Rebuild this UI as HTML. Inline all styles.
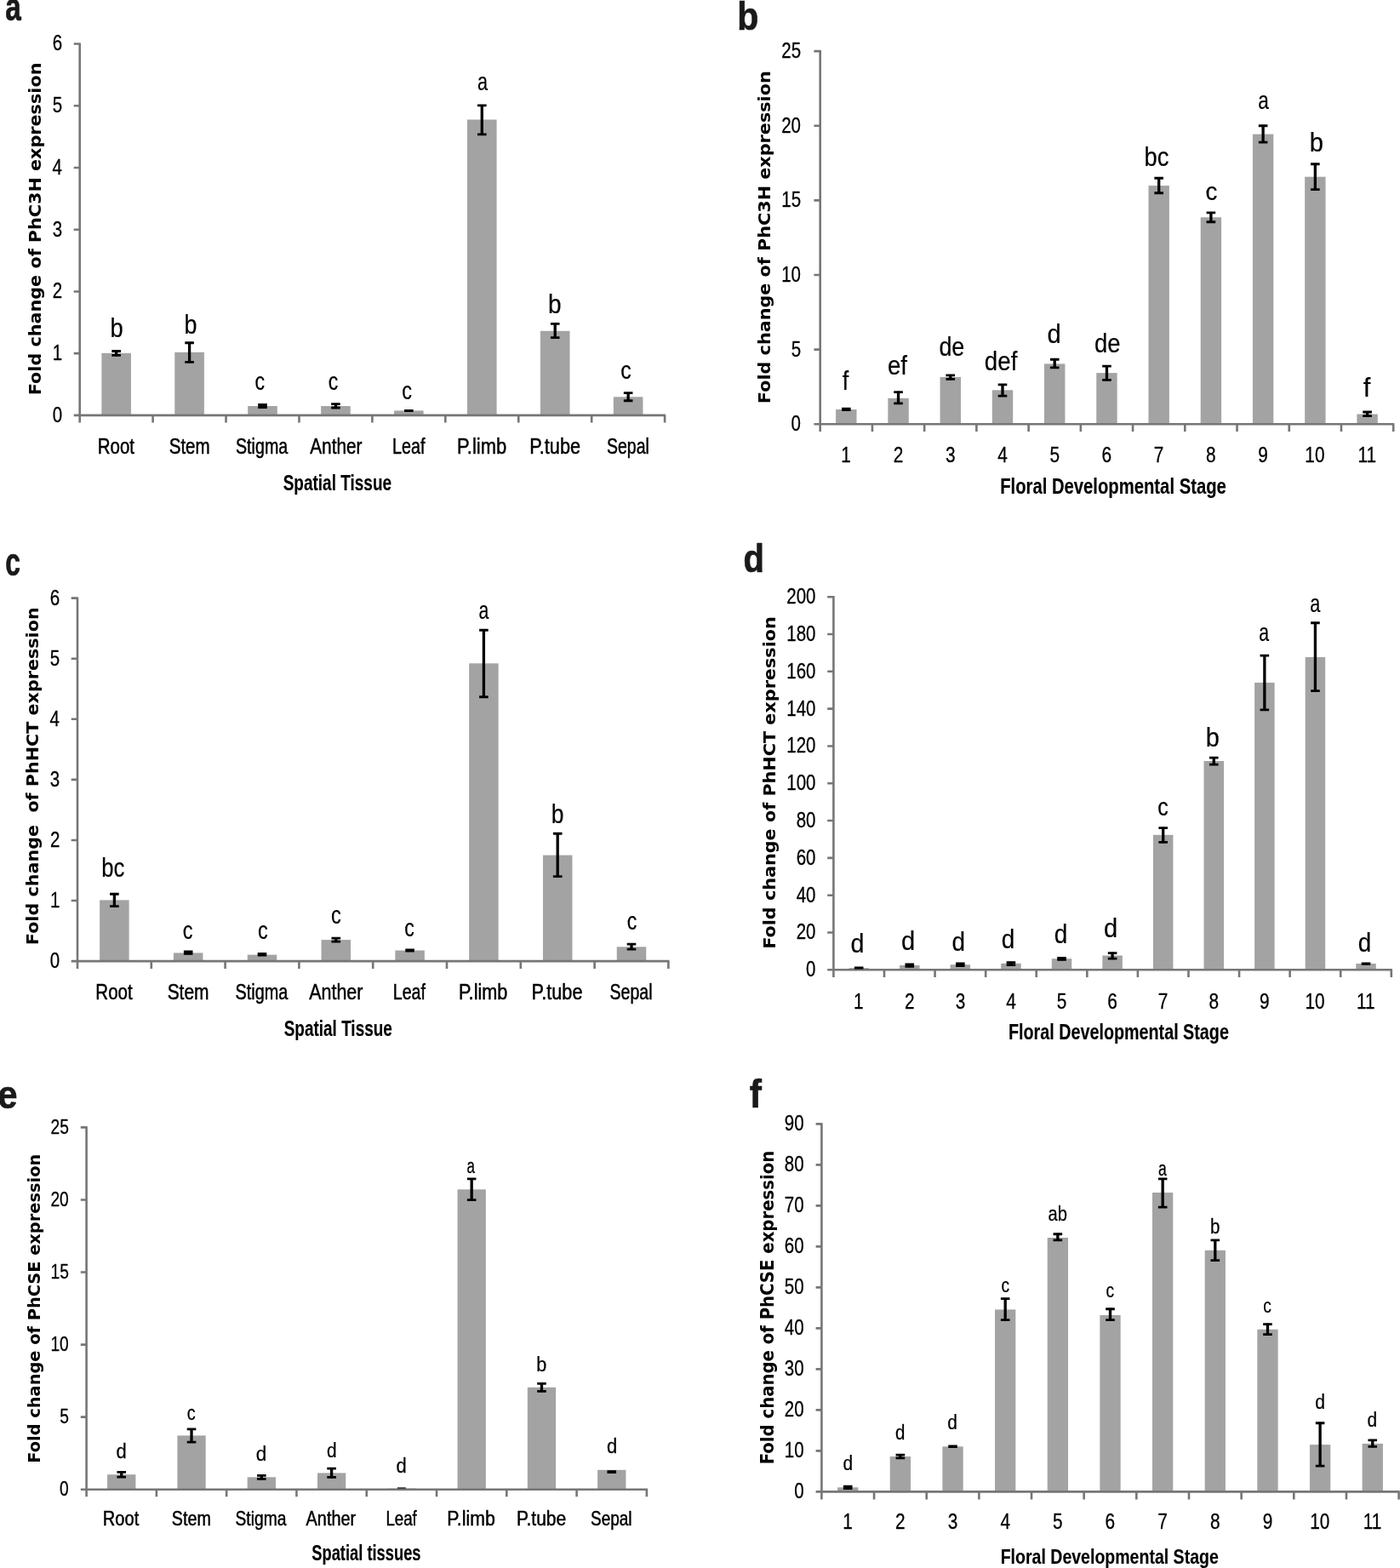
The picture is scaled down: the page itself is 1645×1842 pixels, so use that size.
<!DOCTYPE html>
<html lang="en">
<head>
<meta charset="utf-8">
<title>Fold change of PhC3H, PhHCT and PhCSE expression</title>
<style>
html,body{margin:0;padding:0;background:#fff;}
body{width:1645px;height:1842px;overflow:hidden;}
svg{display:block;}
text{font-family:'Liberation Sans', sans-serif;fill:#000;white-space:pre;stroke:#000;stroke-width:0.5px;stroke-linejoin:round;}
.xt{font-weight:bold;stroke-width:0.15px;}
.lt{stroke-width:0.2px;}
.ls{stroke-width:0.25px;}
.yl,.xn{stroke-width:0.3px;}
.yt{font-family:'DejaVu Sans', sans-serif;font-weight:bold;stroke:none;}
.pl{font-weight:bold;fill:#1a1a1a;stroke:#1a1a1a;stroke-width:0.7px;}
</style>
</head>
<body>
<svg width="1645" height="1842" viewBox="0 0 1645 1842" role="img" aria-label="Bar charts a to f: fold change of PhC3H, PhHCT and PhCSE expression">
<rect width="1645" height="1842" fill="#fff"/>
<g id="panel-a">
<rect x="119.36" y="414.8" width="34.6" height="73.1" fill="#a3a3a3"/>
<rect x="205.29" y="413.8" width="34.6" height="74.1" fill="#a3a3a3"/>
<rect x="291.21" y="477" width="34.6" height="10.9" fill="#a3a3a3"/>
<rect x="377.14" y="477" width="34.6" height="10.9" fill="#a3a3a3"/>
<rect x="463.06" y="482.4" width="34.6" height="5.5" fill="#a3a3a3"/>
<rect x="548.99" y="140.5" width="34.6" height="347.4" fill="#a3a3a3"/>
<rect x="634.91" y="388.8" width="34.6" height="99.1" fill="#a3a3a3"/>
<rect x="720.84" y="466.3" width="34.6" height="21.6" fill="#a3a3a3"/>
<path d="M93.7 50.4V496.5M86.7 487.9H782.2M86.7 415.17H93.7M86.7 342.43H93.7M86.7 269.7H93.7M86.7 196.97H93.7M86.7 124.23H93.7M86.7 51.5H93.7M179.62 487.9V496.5M265.55 487.9V496.5M351.47 487.9V496.5M437.4 487.9V496.5M523.33 487.9V496.5M609.25 487.9V496.5M695.18 487.9V496.5M781.1 487.9V496.5" stroke="#767676" stroke-width="2.6" fill="none"/>
<path d="M131.36 412.5H141.96M131.36 417.3H141.96M217.29 402.75H227.89M217.29 425.35H227.89M303.21 475.5H313.81M303.21 478.5H313.81M389.14 474.7H399.74M389.14 479H399.74M475.06 482.5H485.66M475.06 482.3H485.66M560.99 123.95H571.59M560.99 157.85H571.59M646.91 380.45H657.51M646.91 396.65H657.51M732.84 461.65H743.44M732.84 470.75H743.44" stroke="#000" stroke-width="2.8" fill="none"/>
<path d="M136.66 411.6V418.2M222.59 401.85V426.25M308.51 474.6V479.4M394.44 473.8V479.9M480.36 481.6V483.2M566.29 123.05V158.75M652.21 379.55V397.55M738.14 460.75V471.65" stroke="#000" stroke-width="3.3" fill="none"/>
<text class="yl" font-size="25" transform="translate(61.64 495.8) scale(0.8200 1)">0</text>
<text class="yl" font-size="25" transform="translate(61.84 423.07) scale(0.8200 1)">1</text>
<text class="yl" font-size="25" transform="translate(61.84 350.33) scale(0.8200 1)">2</text>
<text class="yl" font-size="25" transform="translate(61.74 277.6) scale(0.8200 1)">3</text>
<text class="yl" font-size="25" transform="translate(61.43 204.87) scale(0.8200 1)">4</text>
<text class="yl" font-size="25" transform="translate(61.74 132.13) scale(0.8200 1)">5</text>
<text class="yl" font-size="25" transform="translate(61.74 59.4) scale(0.8200 1)">6</text>
<text class="xl" font-size="25.4" transform="translate(114.74 532.5) scale(0.8060 1)">Root</text>
<text class="xl" font-size="25.4" transform="translate(198.65 532.5) scale(0.8109 1)">Stem</text>
<text class="xl" font-size="25.4" transform="translate(276.99 532.5) scale(0.7749 1)">Stigma</text>
<text class="xl" font-size="25.4" transform="translate(364.18 532.5) scale(0.8207 1)">Anther</text>
<text class="xl" font-size="25.4" transform="translate(461.1 532.5) scale(0.7765 1)">Leaf</text>
<text class="xl" font-size="25.4" transform="translate(537.02 532.5) scale(0.8650 1)">P.limb</text>
<text class="xl" font-size="25.4" transform="translate(622.14 532.5) scale(0.8534 1)">P.tube</text>
<text class="xl" font-size="25.4" transform="translate(713 532.5) scale(0.7672 1)">Sepal</text>
<text class="lt" font-size="31" transform="translate(129.53 396.1) scale(0.8834 1)">b</text>
<text class="lt" font-size="31" transform="translate(216.55 392.1) scale(0.8692 1)">b</text>
<text class="lt" font-size="29.6" transform="translate(299.54 458) scale(0.7813 1)">c</text>
<text class="lt" font-size="29.6" transform="translate(385.84 458) scale(0.7813 1)">c</text>
<text class="lt" font-size="29.6" transform="translate(472.23 469.2) scale(0.7968 1)">c</text>
<text class="lt" font-size="29.6" transform="translate(560.9 105.8) scale(0.7315 1)">a</text>
<text class="lt" font-size="31" transform="translate(643.89 368) scale(0.9046 1)">b</text>
<text class="lt" font-size="29.6" transform="translate(729.37 445) scale(0.8434 1)">c</text>
<text class="xt" font-size="26.2" transform="translate(332.68 576.1) scale(0.7254 1)">Spatial Tissue</text>
<text class="yt" font-size="18.6" transform="translate(47.6 464.27) rotate(-90) scale(1.1158 1)">Fold change of PhC3H expression</text>
<text class="pl" font-size="45.5" transform="translate(6.21 24.1) scale(0.7330 1)">a</text>
</g>
<g id="panel-b">
<rect x="982.11" y="481" width="24.4" height="17.3" fill="#a3a3a3"/>
<rect x="1043.34" y="467.8" width="24.4" height="30.5" fill="#a3a3a3"/>
<rect x="1104.57" y="443" width="24.4" height="55.3" fill="#a3a3a3"/>
<rect x="1165.8" y="458.3" width="24.4" height="40" fill="#a3a3a3"/>
<rect x="1227.02" y="427.4" width="24.4" height="70.9" fill="#a3a3a3"/>
<rect x="1288.25" y="438.1" width="24.4" height="60.2" fill="#a3a3a3"/>
<rect x="1349.48" y="218.1" width="24.4" height="280.2" fill="#a3a3a3"/>
<rect x="1410.7" y="255.3" width="24.4" height="243" fill="#a3a3a3"/>
<rect x="1471.93" y="157.6" width="24.4" height="340.7" fill="#a3a3a3"/>
<rect x="1533.16" y="207.7" width="24.4" height="290.6" fill="#a3a3a3"/>
<rect x="1594.39" y="486.5" width="24.4" height="11.8" fill="#a3a3a3"/>
<path d="M963.7 59V507.1M956.4 498.3H1638.3M956.4 410.66H963.7M956.4 323.02H963.7M956.4 235.38H963.7M956.4 147.74H963.7M956.4 60.1H963.7M1024.93 498.3V507.1M1086.15 498.3V507.1M1147.38 498.3V507.1M1208.61 498.3V507.1M1269.84 498.3V507.1M1331.06 498.3V507.1M1392.29 498.3V507.1M1453.52 498.3V507.1M1514.75 498.3V507.1M1575.97 498.3V507.1M1637.2 498.3V507.1" stroke="#767676" stroke-width="2.6" fill="none"/>
<path d="M989.01 480.1H999.61M989.01 481.7H999.61M1050.24 460.65H1060.84M1050.24 473.95H1060.84M1111.47 440.9H1122.07M1111.47 445.3H1122.07M1172.7 451.85H1183.3M1172.7 465.15H1183.3M1233.92 422.25H1244.52M1233.92 431.85H1244.52M1295.15 430.05H1305.75M1295.15 446.45H1305.75M1356.38 209.25H1366.98M1356.38 226.75H1366.98M1417.6 249.85H1428.2M1417.6 260.75H1428.2M1478.83 147.75H1489.43M1478.83 167.15H1489.43M1540.06 192.75H1550.66M1540.06 222.55H1550.66M1601.29 484H1611.89M1601.29 488.6H1611.89" stroke="#000" stroke-width="2.8" fill="none"/>
<path d="M994.31 479.2V482.6M1055.54 459.75V474.85M1116.77 440V446.2M1178 450.95V466.05M1239.22 421.35V432.75M1300.45 429.15V447.35M1361.68 208.35V227.65M1422.9 248.95V261.65M1484.13 146.85V168.05M1545.36 191.85V223.45M1606.59 483.1V489.5" stroke="#000" stroke-width="3.3" fill="none"/>
<text class="yl" font-size="25" transform="translate(929.54 506.2) scale(0.8200 1)">0</text>
<text class="yl" font-size="25" transform="translate(929.64 418.56) scale(0.8200 1)">5</text>
<text class="yl" font-size="25" transform="translate(918.14 330.92) scale(0.8200 1)">10</text>
<text class="yl" font-size="25" transform="translate(918.24 243.28) scale(0.8200 1)">15</text>
<text class="yl" font-size="25" transform="translate(918.14 155.64) scale(0.8200 1)">20</text>
<text class="yl" font-size="25" transform="translate(918.24 68) scale(0.8200 1)">25</text>
<text class="xn" font-size="25.4" transform="translate(988.22 542.7) scale(0.8200 1)">1</text>
<text class="xn" font-size="25.4" transform="translate(1049.71 542.7) scale(0.8200 1)">2</text>
<text class="xn" font-size="25.4" transform="translate(1111.04 542.7) scale(0.8200 1)">3</text>
<text class="xn" font-size="25.4" transform="translate(1172.27 542.7) scale(0.8200 1)">4</text>
<text class="xn" font-size="25.4" transform="translate(1233.44 542.7) scale(0.8200 1)">5</text>
<text class="xn" font-size="25.4" transform="translate(1294.57 542.7) scale(0.8200 1)">6</text>
<text class="xn" font-size="25.4" transform="translate(1355.85 542.7) scale(0.8200 1)">7</text>
<text class="xn" font-size="25.4" transform="translate(1417.12 542.7) scale(0.8200 1)">8</text>
<text class="xn" font-size="25.4" transform="translate(1478.35 542.7) scale(0.8200 1)">9</text>
<text class="xn" font-size="25.4" transform="translate(1533.37 542.7) scale(0.8200 1)">10</text>
<text class="xn" font-size="25.4" transform="translate(1595.48 542.7) scale(0.8200 1)">11</text>
<text class="lt" font-size="31" transform="translate(989.8 457.6) scale(0.8674 1)">f</text>
<text class="lt" font-size="31" transform="translate(1042.96 439.8) scale(0.8938 1)">ef</text>
<text class="lt" font-size="31" transform="translate(1103.39 417.9) scale(0.8684 1)">de</text>
<text class="lt" font-size="31" transform="translate(1156.86 434.5) scale(0.8960 1)">def</text>
<text class="lt" font-size="31" transform="translate(1230.5 403.3) scale(0.9401 1)">d</text>
<text class="lt" font-size="31" transform="translate(1285.97 413.8) scale(0.8872 1)">de</text>
<text class="lt" font-size="31" transform="translate(1344.43 195) scale(0.8822 1)">bc</text>
<text class="lt" font-size="29.6" transform="translate(1416.56 234.6) scale(0.9366 1)">c</text>
<text class="lt" font-size="29.6" transform="translate(1478.37 127.7) scale(0.7640 1)">a</text>
<text class="lt" font-size="31" transform="translate(1538.72 178.2) scale(0.9401 1)">b</text>
<text class="lt" font-size="31" transform="translate(1601.76 465.8) scale(0.9988 1)">f</text>
<text class="xt" font-size="26" transform="translate(1175.13 579.6) scale(0.7796 1)">Floral Developmental Stage</text>
<text class="yt" font-size="19.4" transform="translate(905.1 474.17) rotate(-90) scale(1.0701 1)">Fold change of PhC3H expression</text>
<text class="pl" font-size="45.5" transform="translate(866.28 34.8) scale(0.9013 1)">b</text>
</g>
<g id="panel-c">
<rect x="117.15" y="1057.4" width="34.5" height="71.7" fill="#a3a3a3"/>
<rect x="203.95" y="1119.4" width="34.5" height="9.7" fill="#a3a3a3"/>
<rect x="290.75" y="1121.6" width="34.5" height="7.5" fill="#a3a3a3"/>
<rect x="377.55" y="1104.1" width="34.5" height="25" fill="#a3a3a3"/>
<rect x="464.35" y="1116.5" width="34.5" height="12.6" fill="#a3a3a3"/>
<rect x="551.15" y="779.3" width="34.5" height="349.8" fill="#a3a3a3"/>
<rect x="637.95" y="1004.6" width="34.5" height="124.5" fill="#a3a3a3"/>
<rect x="724.75" y="1112.3" width="34.5" height="16.8" fill="#a3a3a3"/>
<path d="M91 701.5V1138.1M83.7 1129.1H786.5M83.7 1058.02H91M83.7 986.93H91M83.7 915.85H91M83.7 844.77H91M83.7 773.68H91M83.7 702.6H91M177.8 1129.1V1138.1M264.6 1129.1V1138.1M351.4 1129.1V1138.1M438.2 1129.1V1138.1M525 1129.1V1138.1M611.8 1129.1V1138.1M698.6 1129.1V1138.1M785.4 1129.1V1138.1" stroke="#767676" stroke-width="2.6" fill="none"/>
<path d="M129.1 1050.25H139.7M129.1 1064.55H139.7M215.9 1117.9H226.5M215.9 1120.3H226.5M302.7 1120.5H313.3M302.7 1122H313.3M389.5 1102.2H400.1M389.5 1106.1H400.1M476.3 1115.9H486.9M476.3 1117.1H486.9M563.1 740.25H573.7M563.1 818.75H573.7M649.9 979.25H660.5M649.9 1029.55H660.5M736.7 1109.05H747.3M736.7 1115.05H747.3" stroke="#000" stroke-width="2.8" fill="none"/>
<path d="M134.4 1049.35V1065.45M221.2 1117V1121.2M308 1119.6V1122.9M394.8 1101.3V1107M481.6 1115V1118M568.4 739.35V819.65M655.2 978.35V1030.45M742 1108.15V1115.95" stroke="#000" stroke-width="3.3" fill="none"/>
<text class="yl" font-size="25" transform="translate(58.74 1137) scale(0.8200 1)">0</text>
<text class="yl" font-size="25" transform="translate(58.95 1065.92) scale(0.8200 1)">1</text>
<text class="yl" font-size="25" transform="translate(58.95 994.83) scale(0.8200 1)">2</text>
<text class="yl" font-size="25" transform="translate(58.84 923.75) scale(0.8200 1)">3</text>
<text class="yl" font-size="25" transform="translate(58.54 852.67) scale(0.8200 1)">4</text>
<text class="yl" font-size="25" transform="translate(58.84 781.58) scale(0.8200 1)">5</text>
<text class="yl" font-size="25" transform="translate(58.84 710.5) scale(0.8200 1)">6</text>
<text class="xl" font-size="25.4" transform="translate(112.33 1173.9) scale(0.8099 1)">Root</text>
<text class="xl" font-size="25.4" transform="translate(196.63 1173.9) scale(0.8251 1)">Stem</text>
<text class="xl" font-size="25.4" transform="translate(276.48 1173.9) scale(0.7813 1)">Stigma</text>
<text class="xl" font-size="25.4" transform="translate(363.18 1173.9) scale(0.8462 1)">Anther</text>
<text class="xl" font-size="25.4" transform="translate(461.81 1173.9) scale(0.7722 1)">Leaf</text>
<text class="xl" font-size="25.4" transform="translate(538.94 1173.9) scale(0.8541 1)">P.limb</text>
<text class="xl" font-size="25.4" transform="translate(624.54 1173.9) scale(0.8549 1)">P.tube</text>
<text class="xl" font-size="25.4" transform="translate(716.6 1173.9) scale(0.7688 1)">Sepal</text>
<text class="lt" font-size="31" transform="translate(119.33 1029.9) scale(0.8291 1)">bc</text>
<text class="lt" font-size="29.6" transform="translate(214.83 1102.9) scale(0.7968 1)">c</text>
<text class="lt" font-size="29.6" transform="translate(303.03 1102.9) scale(0.7968 1)">c</text>
<text class="lt" font-size="29.6" transform="translate(388.93 1085.3) scale(0.7968 1)">c</text>
<text class="lt" font-size="29.6" transform="translate(475.24 1099.5) scale(0.7813 1)">c</text>
<text class="lt" font-size="29.6" transform="translate(562.62 726.5) scale(0.7186 1)">a</text>
<text class="lt" font-size="31" transform="translate(647.68 966.9) scale(0.8550 1)">b</text>
<text class="lt" font-size="29.6" transform="translate(736.64 1092.2) scale(0.7813 1)">c</text>
<text class="xt" font-size="26.2" transform="translate(333.68 1217) scale(0.7243 1)">Spatial Tissue</text>
<text class="yt" font-size="18.7" transform="translate(45.4 1110.16) rotate(-90) scale(1.1069 1)">Fold change  of PhHCT expression</text>
<text class="pl" font-size="45.5" transform="translate(6.18 676) scale(0.6997 1)">c</text>
</g>
<g id="panel-d">
<rect x="997.44" y="1137.2" width="23.5" height="2.1" fill="#a3a3a3"/>
<rect x="1057.02" y="1134" width="23.5" height="5.3" fill="#a3a3a3"/>
<rect x="1116.6" y="1133.2" width="23.5" height="6.1" fill="#a3a3a3"/>
<rect x="1176.19" y="1131.8" width="23.5" height="7.5" fill="#a3a3a3"/>
<rect x="1235.77" y="1126.2" width="23.5" height="13.1" fill="#a3a3a3"/>
<rect x="1295.35" y="1122.5" width="23.5" height="16.8" fill="#a3a3a3"/>
<rect x="1354.93" y="980.8" width="23.5" height="158.5" fill="#a3a3a3"/>
<rect x="1414.51" y="894" width="23.5" height="245.3" fill="#a3a3a3"/>
<rect x="1474.1" y="801.9" width="23.5" height="337.4" fill="#a3a3a3"/>
<rect x="1533.68" y="772" width="23.5" height="367.3" fill="#a3a3a3"/>
<rect x="1593.26" y="1132" width="23.5" height="7.3" fill="#a3a3a3"/>
<path d="M979.4 700.1V1148.1M972.2 1139.3H1635.9M972.2 1095.49H979.4M972.2 1051.68H979.4M972.2 1007.87H979.4M972.2 964.06H979.4M972.2 920.25H979.4M972.2 876.44H979.4M972.2 832.63H979.4M972.2 788.82H979.4M972.2 745.01H979.4M972.2 701.2H979.4M1038.98 1139.3V1148.1M1098.56 1139.3V1148.1M1158.15 1139.3V1148.1M1217.73 1139.3V1148.1M1277.31 1139.3V1148.1M1336.89 1139.3V1148.1M1396.47 1139.3V1148.1M1456.05 1139.3V1148.1M1515.64 1139.3V1148.1M1575.22 1139.3V1148.1M1634.8 1139.3V1148.1" stroke="#767676" stroke-width="2.6" fill="none"/>
<path d="M1003.89 1137H1014.49M1003.89 1136.8H1014.49M1063.47 1132.8H1074.07M1063.47 1135.3H1074.07M1123.05 1132H1133.65M1123.05 1134.5H1133.65M1182.64 1130.7H1193.24M1182.64 1133.7H1193.24M1242.22 1125.5H1252.82M1242.22 1127.3H1252.82M1301.8 1119.55H1312.4M1301.8 1126.05H1312.4M1361.38 972.65H1371.98M1361.38 989.35H1371.98M1420.96 890.05H1431.56M1420.96 898.05H1431.56M1480.55 770.15H1491.15M1480.55 833.85H1491.15M1540.13 731.75H1550.73M1540.13 811.65H1550.73M1599.71 1131.9H1610.31M1599.71 1132.3H1610.31" stroke="#000" stroke-width="2.8" fill="none"/>
<path d="M1009.19 1136.1V1137.7M1068.77 1131.9V1136.2M1128.35 1131.1V1135.4M1187.94 1129.8V1134.6M1247.52 1124.6V1128.2M1307.1 1118.65V1126.95M1366.68 971.75V990.25M1426.26 889.15V898.95M1485.85 769.25V834.75M1545.43 730.85V812.55M1605.01 1131V1133.2" stroke="#000" stroke-width="3.3" fill="none"/>
<text class="yl" font-size="25" transform="translate(947.04 1147.2) scale(0.8200 1)">0</text>
<text class="yl" font-size="25" transform="translate(935.64 1103.39) scale(0.8200 1)">20</text>
<text class="yl" font-size="25" transform="translate(935.64 1059.58) scale(0.8200 1)">40</text>
<text class="yl" font-size="25" transform="translate(935.64 1015.77) scale(0.8200 1)">60</text>
<text class="yl" font-size="25" transform="translate(935.64 971.96) scale(0.8200 1)">80</text>
<text class="yl" font-size="25" transform="translate(924.24 928.15) scale(0.8200 1)">100</text>
<text class="yl" font-size="25" transform="translate(924.24 884.34) scale(0.8200 1)">120</text>
<text class="yl" font-size="25" transform="translate(924.24 840.53) scale(0.8200 1)">140</text>
<text class="yl" font-size="25" transform="translate(924.24 796.72) scale(0.8200 1)">160</text>
<text class="yl" font-size="25" transform="translate(924.24 752.91) scale(0.8200 1)">180</text>
<text class="yl" font-size="25" transform="translate(924.24 709.1) scale(0.8200 1)">200</text>
<text class="xn" font-size="25.4" transform="translate(1003.1 1184.8) scale(0.8200 1)">1</text>
<text class="xn" font-size="25.4" transform="translate(1062.94 1184.8) scale(0.8200 1)">2</text>
<text class="xn" font-size="25.4" transform="translate(1122.63 1184.8) scale(0.8200 1)">3</text>
<text class="xn" font-size="25.4" transform="translate(1182.21 1184.8) scale(0.8200 1)">4</text>
<text class="xn" font-size="25.4" transform="translate(1241.74 1184.8) scale(0.8200 1)">5</text>
<text class="xn" font-size="25.4" transform="translate(1301.22 1184.8) scale(0.8200 1)">6</text>
<text class="xn" font-size="25.4" transform="translate(1360.85 1184.8) scale(0.8200 1)">7</text>
<text class="xn" font-size="25.4" transform="translate(1420.48 1184.8) scale(0.8200 1)">8</text>
<text class="xn" font-size="25.4" transform="translate(1480.07 1184.8) scale(0.8200 1)">9</text>
<text class="xn" font-size="25.4" transform="translate(1533.44 1184.8) scale(0.8200 1)">10</text>
<text class="xn" font-size="25.4" transform="translate(1593.9 1184.8) scale(0.8200 1)">11</text>
<text class="lt" font-size="31" transform="translate(999.42 1118.9) scale(0.9259 1)">d</text>
<text class="lt" font-size="31" transform="translate(1059 1115.7) scale(0.9401 1)">d</text>
<text class="lt" font-size="31" transform="translate(1118.46 1116.5) scale(0.8976 1)">d</text>
<text class="lt" font-size="31" transform="translate(1176.75 1113.8) scale(0.9046 1)">d</text>
<text class="lt" font-size="31" transform="translate(1238.75 1108.4) scale(0.9046 1)">d</text>
<text class="lt" font-size="31" transform="translate(1296.9 1101.4) scale(0.9401 1)">d</text>
<text class="lt" font-size="29.6" transform="translate(1360.27 958.2) scale(0.8434 1)">c</text>
<text class="lt" font-size="31" transform="translate(1416.73 876.5) scale(0.9330 1)">b</text>
<text class="lt" font-size="29.6" transform="translate(1479.32 753.3) scale(0.7186 1)">a</text>
<text class="lt" font-size="29.6" transform="translate(1539.2 718.5) scale(0.7315 1)">a</text>
<text class="lt" font-size="31" transform="translate(1595.86 1117.7) scale(0.8976 1)">d</text>
<text class="xt" font-size="26.2" transform="translate(1184.97 1221.4) scale(0.7540 1)">Floral Developmental Stage</text>
<text class="yt" font-size="18.7" transform="translate(911 1114.87) rotate(-90) scale(1.1095 1)">Fold change of PhHCT expression</text>
<text class="pl" font-size="45.5" transform="translate(873.44 671.8) scale(0.8796 1)">d</text>
</g>
<g id="panel-e">
<rect x="126.09" y="1732.2" width="33.3" height="17.5" fill="#a3a3a3"/>
<rect x="208.38" y="1686.4" width="33.3" height="63.3" fill="#a3a3a3"/>
<rect x="290.67" y="1735.3" width="33.3" height="14.4" fill="#a3a3a3"/>
<rect x="372.96" y="1730.4" width="33.3" height="19.3" fill="#a3a3a3"/>
<rect x="455.24" y="1748.6" width="33.3" height="1.1" fill="#a3a3a3"/>
<rect x="537.53" y="1397.3" width="33.3" height="352.4" fill="#a3a3a3"/>
<rect x="619.82" y="1629.8" width="33.3" height="119.9" fill="#a3a3a3"/>
<rect x="702.11" y="1726.8" width="33.3" height="22.9" fill="#a3a3a3"/>
<path d="M101.6 1323.3V1758.2M94.8 1749.7H761M94.8 1664.64H101.6M94.8 1579.58H101.6M94.8 1494.52H101.6M94.8 1409.46H101.6M94.8 1324.4H101.6M183.89 1749.7V1758.2M266.17 1749.7V1758.2M348.46 1749.7V1758.2M430.75 1749.7V1758.2M513.04 1749.7V1758.2M595.32 1749.7V1758.2M677.61 1749.7V1758.2M759.9 1749.7V1758.2" stroke="#767676" stroke-width="2.6" fill="none"/>
<rect x="466.99" y="1747.3" width="9.8" height="1.5" fill="#222"/>
<path d="M137.44 1729.35H148.04M137.44 1735.15H148.04M219.73 1678.85H230.33M219.73 1694.05H230.33M302.02 1733.3H312.62M302.02 1737.4H312.62M384.31 1725.05H394.91M384.31 1735.35H394.91M548.88 1384.85H559.48M548.88 1409.55H559.48M631.17 1625.35H641.77M631.17 1634.45H641.77M713.46 1728.7H724.06M713.46 1729.5H724.06" stroke="#000" stroke-width="2.8" fill="none"/>
<path d="M142.74 1728.45V1736.05M225.03 1677.95V1694.95M307.32 1732.4V1738.3M389.61 1724.15V1736.25M554.18 1383.95V1410.45M636.47 1624.45V1635.35M718.76 1727.8V1730.4" stroke="#000" stroke-width="3.3" fill="none"/>
<text class="yl" font-size="24" transform="translate(70.12 1757.28) scale(0.8000 1)">0</text>
<text class="yl" font-size="24" transform="translate(70.21 1672.22) scale(0.8000 1)">5</text>
<text class="yl" font-size="24" transform="translate(59.44 1587.16) scale(0.8000 1)">10</text>
<text class="yl" font-size="24" transform="translate(59.53 1502.1) scale(0.8000 1)">15</text>
<text class="yl" font-size="24" transform="translate(59.44 1417.04) scale(0.8000 1)">20</text>
<text class="yl" font-size="24" transform="translate(59.53 1331.98) scale(0.8000 1)">25</text>
<text class="xl" font-size="24" transform="translate(120.87 1792.4) scale(0.8366 1)">Root</text>
<text class="xl" font-size="24" transform="translate(201.79 1792.4) scale(0.8227 1)">Stem</text>
<text class="xl" font-size="24" transform="translate(276.51 1792.4) scale(0.8039 1)">Stigma</text>
<text class="xl" font-size="24" transform="translate(359.57 1792.4) scale(0.8303 1)">Anther</text>
<text class="xl" font-size="24" transform="translate(453.38 1792.4) scale(0.7794 1)">Leaf</text>
<text class="xl" font-size="24" transform="translate(525.37 1792.4) scale(0.8891 1)">P.limb</text>
<text class="xl" font-size="24" transform="translate(607.09 1792.4) scale(0.8780 1)">P.tube</text>
<text class="xl" font-size="24" transform="translate(694.02 1792.4) scale(0.7915 1)">Sepal</text>
<text class="ls" font-size="24.4" transform="translate(136.61 1713.4) scale(0.9030 1)">d</text>
<text class="ls" font-size="23.3" transform="translate(219.79 1667.7) scale(0.8510 1)">c</text>
<text class="ls" font-size="24.4" transform="translate(300.68 1716.3) scale(0.9300 1)">d</text>
<text class="ls" font-size="24.4" transform="translate(383.95 1711.5) scale(0.8580 1)">d</text>
<text class="ls" font-size="24.4" transform="translate(465.61 1730) scale(0.9030 1)">d</text>
<text class="ls" font-size="23.3" transform="translate(548.41 1377.9) scale(0.7284 1)">a</text>
<text class="ls" font-size="24.4" transform="translate(630.29 1610.8) scale(0.8850 1)">b</text>
<text class="ls" font-size="24.4" transform="translate(712.91 1707.3) scale(0.9030 1)">d</text>
<text class="xt" font-size="25.2" transform="translate(366.29 1832.9) scale(0.7271 1)">Spatial tissues</text>
<text class="yt" font-size="19.5" transform="translate(47.2 1718.74) rotate(-90) scale(0.9939 1)">Fold change of PhCSE expression</text>
<text class="pl" font-size="45.5" transform="translate(-2.72 1301.7) scale(0.9199 1)">e</text>
</g>
<g id="panel-f">
<rect x="984.08" y="1747.3" width="24.3" height="5.1" fill="#a3a3a3"/>
<rect x="1045.73" y="1711" width="24.3" height="41.4" fill="#a3a3a3"/>
<rect x="1107.39" y="1699.3" width="24.3" height="53.1" fill="#a3a3a3"/>
<rect x="1169.04" y="1538.4" width="24.3" height="214" fill="#a3a3a3"/>
<rect x="1230.7" y="1454" width="24.3" height="298.4" fill="#a3a3a3"/>
<rect x="1292.35" y="1544.9" width="24.3" height="207.5" fill="#a3a3a3"/>
<rect x="1354" y="1401" width="24.3" height="351.4" fill="#a3a3a3"/>
<rect x="1415.66" y="1468.8" width="24.3" height="283.6" fill="#a3a3a3"/>
<rect x="1477.31" y="1561.7" width="24.3" height="190.7" fill="#a3a3a3"/>
<rect x="1538.97" y="1697.1" width="24.3" height="55.3" fill="#a3a3a3"/>
<rect x="1600.62" y="1695.9" width="24.3" height="56.5" fill="#a3a3a3"/>
<path d="M965.4 1319.3V1761.4M958.6 1752.4H1644.7M958.6 1704.4H965.4M958.6 1656.4H965.4M958.6 1608.4H965.4M958.6 1560.4H965.4M958.6 1512.4H965.4M958.6 1464.4H965.4M958.6 1416.4H965.4M958.6 1368.4H965.4M958.6 1320.4H965.4M1027.05 1752.4V1761.4M1088.71 1752.4V1761.4M1150.36 1752.4V1761.4M1212.02 1752.4V1761.4M1273.67 1752.4V1761.4M1335.33 1752.4V1761.4M1396.98 1752.4V1761.4M1458.64 1752.4V1761.4M1520.29 1752.4V1761.4M1581.95 1752.4V1761.4M1643.6 1752.4V1761.4" stroke="#767676" stroke-width="2.6" fill="none"/>
<path d="M990.93 1746.1H1001.53M990.93 1748.7H1001.53M1052.58 1709.2H1063.18M1052.58 1712.8H1063.18M1114.24 1698.9H1124.84M1114.24 1699.7H1124.84M1175.89 1525.65H1186.49M1175.89 1550.55H1186.49M1237.55 1449.75H1248.15M1237.55 1456.95H1248.15M1299.2 1537.75H1309.8M1299.2 1550.55H1309.8M1360.85 1384.85H1371.45M1360.85 1418.05H1371.45M1422.51 1456.85H1433.11M1422.51 1480.55H1433.11M1484.16 1555.55H1494.76M1484.16 1567.65H1494.76M1545.82 1671.75H1556.42M1545.82 1722.05H1556.42M1607.47 1691.95H1618.07M1607.47 1699.35H1618.07" stroke="#000" stroke-width="2.8" fill="none"/>
<path d="M996.23 1745.2V1749.6M1057.88 1708.3V1713.7M1119.54 1698V1700.6M1181.19 1524.75V1551.45M1242.85 1448.85V1457.85M1304.5 1536.85V1551.45M1366.15 1383.95V1418.95M1427.81 1455.95V1481.45M1489.46 1554.65V1568.55M1551.12 1670.85V1722.95M1612.77 1691.05V1700.25" stroke="#000" stroke-width="3.3" fill="none"/>
<text class="yl" font-size="25" transform="translate(933.24 1760.3) scale(0.8200 1)">0</text>
<text class="yl" font-size="25" transform="translate(921.84 1712.3) scale(0.8200 1)">10</text>
<text class="yl" font-size="25" transform="translate(921.84 1664.3) scale(0.8200 1)">20</text>
<text class="yl" font-size="25" transform="translate(921.84 1616.3) scale(0.8200 1)">30</text>
<text class="yl" font-size="25" transform="translate(921.84 1568.3) scale(0.8200 1)">40</text>
<text class="yl" font-size="25" transform="translate(921.84 1520.3) scale(0.8200 1)">50</text>
<text class="yl" font-size="25" transform="translate(921.84 1472.3) scale(0.8200 1)">60</text>
<text class="yl" font-size="25" transform="translate(921.84 1424.3) scale(0.8200 1)">70</text>
<text class="yl" font-size="25" transform="translate(921.84 1376.3) scale(0.8200 1)">80</text>
<text class="yl" font-size="25" transform="translate(921.84 1328.3) scale(0.8200 1)">90</text>
<text class="xn" font-size="25.4" transform="translate(990.14 1795.9) scale(0.8200 1)">1</text>
<text class="xn" font-size="25.4" transform="translate(1052.05 1795.9) scale(0.8200 1)">2</text>
<text class="xn" font-size="25.4" transform="translate(1113.81 1795.9) scale(0.8200 1)">3</text>
<text class="xn" font-size="25.4" transform="translate(1175.46 1795.9) scale(0.8200 1)">4</text>
<text class="xn" font-size="25.4" transform="translate(1237.07 1795.9) scale(0.8200 1)">5</text>
<text class="xn" font-size="25.4" transform="translate(1298.62 1795.9) scale(0.8200 1)">6</text>
<text class="xn" font-size="25.4" transform="translate(1360.32 1795.9) scale(0.8200 1)">7</text>
<text class="xn" font-size="25.4" transform="translate(1422.03 1795.9) scale(0.8200 1)">8</text>
<text class="xn" font-size="25.4" transform="translate(1483.68 1795.9) scale(0.8200 1)">9</text>
<text class="xn" font-size="25.4" transform="translate(1539.13 1795.9) scale(0.8200 1)">10</text>
<text class="xn" font-size="25.4" transform="translate(1601.66 1795.9) scale(0.8200 1)">11</text>
<text class="ls" font-size="24.4" transform="translate(990.55 1727.3) scale(0.8580 1)">d</text>
<text class="ls" font-size="24.4" transform="translate(1052.07 1690.8) scale(0.8399 1)">d</text>
<text class="ls" font-size="24.4" transform="translate(1113.35 1678.9) scale(0.8580 1)">d</text>
<text class="ls" font-size="23.3" transform="translate(1176.62 1517.9) scale(0.8214 1)">c</text>
<text class="ls" font-size="24.4" transform="translate(1231.48 1434.1) scale(0.8237 1)">ab</text>
<text class="ls" font-size="23.3" transform="translate(1299.52 1524) scale(0.8214 1)">c</text>
<text class="ls" font-size="23.3" transform="translate(1361.09 1380.5) scale(0.7531 1)">a</text>
<text class="ls" font-size="24.4" transform="translate(1422.06 1448.6) scale(0.8399 1)">b</text>
<text class="ls" font-size="23.3" transform="translate(1484.32 1541.8) scale(0.8214 1)">c</text>
<text class="ls" font-size="24.4" transform="translate(1545.24 1655.1) scale(0.8670 1)">d</text>
<text class="ls" font-size="24.4" transform="translate(1606.55 1675.7) scale(0.8580 1)">d</text>
<text class="xt" font-size="24.8" transform="translate(1175.68 1836.9) scale(0.7879 1)">Floral Developmental Stage</text>
<text class="yt" font-size="20.3" transform="translate(909 1720.37) rotate(-90) scale(0.9699 1)">Fold change of PhCSE expression</text>
<text class="pl" font-size="45.5" transform="translate(880.71 1300.7) scale(0.9348 1)">f</text>
</g>
</svg>
</body>
</html>
